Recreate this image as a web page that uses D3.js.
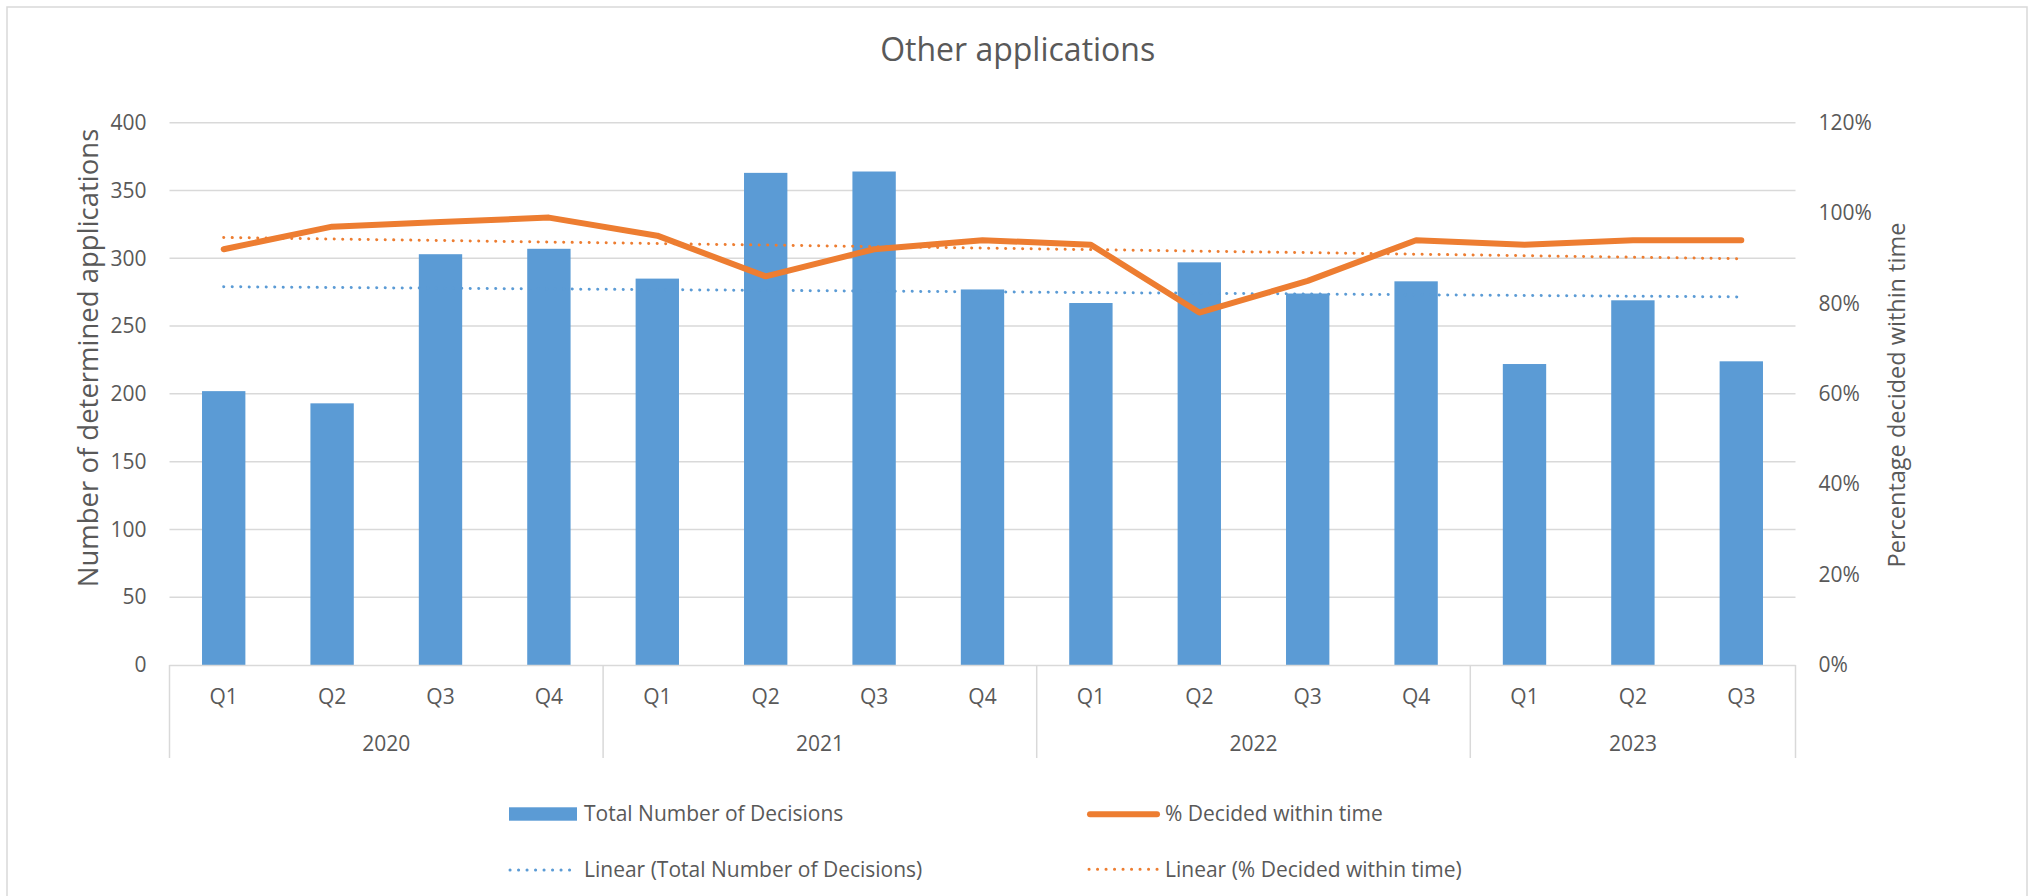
<!DOCTYPE html>
<html>
<head>
<meta charset="utf-8">
<script src="https://cdn.jsdelivr.net/npm/d3@7"></script>
<style>
  html, body { margin: 0; padding: 0; background: #fff; }
  svg { display: block; }
  text { font-family: "Open Sans", "Noto Sans", sans-serif; fill: #595959; }
</style>
</head>
<body>
<svg id="chart" width="2031" height="896"></svg>
<script>
// ---------- data ----------
const years = ["2020", "2021", "2022", "2023"];
const quarters = ["Q1","Q2","Q3","Q4","Q1","Q2","Q3","Q4","Q1","Q2","Q3","Q4","Q1","Q2","Q3"];
const yearOfPoint = ["2020","2020","2020","2020","2021","2021","2021","2021","2022","2022","2022","2022","2023","2023","2023"];
const totalDecisions = [202, 193, 303, 307, 285, 363, 364, 277, 267, 297, 274, 283, 222, 269, 224];
const pctWithinTime = [0.92, 0.97, 0.98, 0.99, 0.95, 0.86, 0.92, 0.94, 0.93, 0.78, 0.85, 0.94, 0.93, 0.94, 0.94];
// trendline endpoints (first and last category)
const trendTotal = [279, 271.5];
const trendPct = [0.946, 0.899];
const leftTicks = [0, 50, 100, 150, 200, 250, 300, 350, 400];
const rightTicks = [0, 0.2, 0.4, 0.6, 0.8, 1.0, 1.2];

const title = "Other applications";
const leftTitle = "Number of determined applications";
const rightTitle = "Percentage decided within time";
const legendItems = ["Total Number of Decisions", "% Decided within time",
                     "Linear (Total Number of Decisions)", "Linear (% Decided within time)"];

// ---------- layout ----------
const BLUE = "#5B9BD5", ORANGE = "#ED7D31", GRID = "#D9D9D9";
const plot = { left: 169.5, right: 1795.5, top: 122.7, bottom: 665 };
const svg = d3.select("#chart");

svg.append("rect").attr("x", 7).attr("y", 7).attr("width", 2020).attr("height", 900)
  .attr("fill", "#fff").attr("stroke", GRID).attr("stroke-width", 1.5);

const idx = d3.range(quarters.length);
const x = d3.scaleBand().domain(idx).range([plot.left, plot.right]).paddingInner(0.6).paddingOuter(0.3);
const xc = i => x(i) + x.bandwidth() / 2;
const band = (plot.right - plot.left) / quarters.length;
const yL = d3.scaleLinear().domain([0, 400]).range([plot.bottom, plot.top]);
const yR = d3.scaleLinear().domain([0, 1.2]).range([plot.bottom, plot.top]);

// gridlines
svg.append("g").selectAll("line").data(leftTicks.slice(1)).join("line")
  .attr("x1", plot.left).attr("x2", plot.right)
  .attr("y1", d => yL(d)).attr("y2", d => yL(d))
  .attr("stroke", GRID).attr("stroke-width", 1.5);

// left axis
const axL = svg.append("g").attr("transform", `translate(${plot.left - 23},0)`)
  .call(d3.axisLeft(yL).tickValues(leftTicks).tickSize(0).tickPadding(0));
axL.select(".domain").remove();
axL.selectAll("text").attr("font-size", 21).attr("fill", "#595959")
  .style("font-family", '"Open Sans", sans-serif');

// right axis
const axR = svg.append("g").attr("transform", `translate(${plot.right + 23},0)`)
  .call(d3.axisRight(yR).tickValues(rightTicks).tickFormat(d3.format(".0%")).tickSize(0).tickPadding(0));
axR.select(".domain").remove();
axR.selectAll("text").attr("font-size", 21).attr("fill", "#595959")
  .style("font-family", '"Open Sans", sans-serif');

// bars
svg.append("g").selectAll("rect").data(totalDecisions).join("rect")
  .attr("x", (d, i) => x(i)).attr("width", x.bandwidth())
  .attr("y", d => yL(d)).attr("height", d => yL(0) - yL(d))
  .attr("fill", BLUE);

// category axis
svg.append("line").attr("x1", plot.left).attr("x2", plot.right)
  .attr("y1", plot.bottom + 0.5).attr("y2", plot.bottom + 0.5)
  .attr("stroke", GRID).attr("stroke-width", 1.5);
const yearStarts = years.map(yr => yearOfPoint.indexOf(yr));
const sepIdx = yearStarts.concat([quarters.length]);
svg.append("g").selectAll("line").data(sepIdx).join("line")
  .attr("x1", d => plot.left + d * band).attr("x2", d => plot.left + d * band)
  .attr("y1", plot.bottom).attr("y2", 758)
  .attr("stroke", GRID).attr("stroke-width", 1.5);
svg.append("g").selectAll("text").data(quarters).join("text")
  .attr("x", (d, i) => xc(i)).attr("y", 704).attr("text-anchor", "middle")
  .attr("font-size", 21).text(d => d);
svg.append("g").selectAll("text").data(years).join("text")
  .attr("x", yr => {
    const pts = idx.filter(i => yearOfPoint[i] === yr);
    return (plot.left + pts[0] * band + plot.left + (pts[pts.length - 1] + 1) * band) / 2;
  })
  .attr("y", 751).attr("text-anchor", "middle").attr("font-size", 21).text(d => d);

// trendlines
const dotStyle = sel => sel.attr("fill", "none").attr("stroke-width", 3)
  .attr("stroke-linecap", "round").attr("stroke-dasharray", "0.1 8.4");
svg.append("line").call(dotStyle).attr("stroke", BLUE)
  .attr("x1", xc(0)).attr("x2", xc(quarters.length - 1))
  .attr("y1", yL(trendTotal[0])).attr("y2", yL(trendTotal[1]));
svg.append("line").call(dotStyle).attr("stroke", ORANGE)
  .attr("x1", xc(0)).attr("x2", xc(quarters.length - 1))
  .attr("y1", yR(trendPct[0])).attr("y2", yR(trendPct[1]));

// percentage line
const line = d3.line().x((d, i) => xc(i)).y(d => yR(d));
svg.append("path").datum(pctWithinTime).attr("d", line)
  .attr("fill", "none").attr("stroke", ORANGE).attr("stroke-width", 6)
  .attr("stroke-linejoin", "round").attr("stroke-linecap", "round");

// titles
svg.append("text").attr("x", 1017.7).attr("y", 61).attr("text-anchor", "middle")
  .attr("font-size", 32).text(title);
svg.append("text").attr("transform", `translate(98,358) rotate(-90)`)
  .attr("text-anchor", "middle").attr("font-size", 27.5).text(leftTitle);
svg.append("text").attr("transform", `translate(1905,395) rotate(-90)`)
  .attr("text-anchor", "middle").attr("font-size", 23.5).text(rightTitle);

// legend
const lg = svg.append("g");
lg.append("rect").attr("x", 509).attr("y", 807.3).attr("width", 68).attr("height", 13.4).attr("fill", BLUE);
lg.append("line").attr("x1", 1090).attr("x2", 1157).attr("y1", 814.3).attr("y2", 814.3)
  .attr("stroke", ORANGE).attr("stroke-width", 6).attr("stroke-linecap", "round");
lg.append("line").call(dotStyle).attr("stroke", BLUE)
  .attr("x1", 510).attr("x2", 577).attr("y1", 870).attr("y2", 870);
lg.append("line").call(dotStyle).attr("stroke", ORANGE)
  .attr("x1", 1089).attr("x2", 1159).attr("y1", 869.3).attr("y2", 869.3);
const legendPos = [[584, 820.7], [1165, 820.7], [584, 876.7], [1165, 876.7]];
lg.selectAll("text.lt").data(legendItems).join("text").attr("class", "lt")
  .attr("x", (d, i) => legendPos[i][0]).attr("y", (d, i) => legendPos[i][1])
  .attr("font-size", 21).text(d => d);
</script>
</body>
</html>
